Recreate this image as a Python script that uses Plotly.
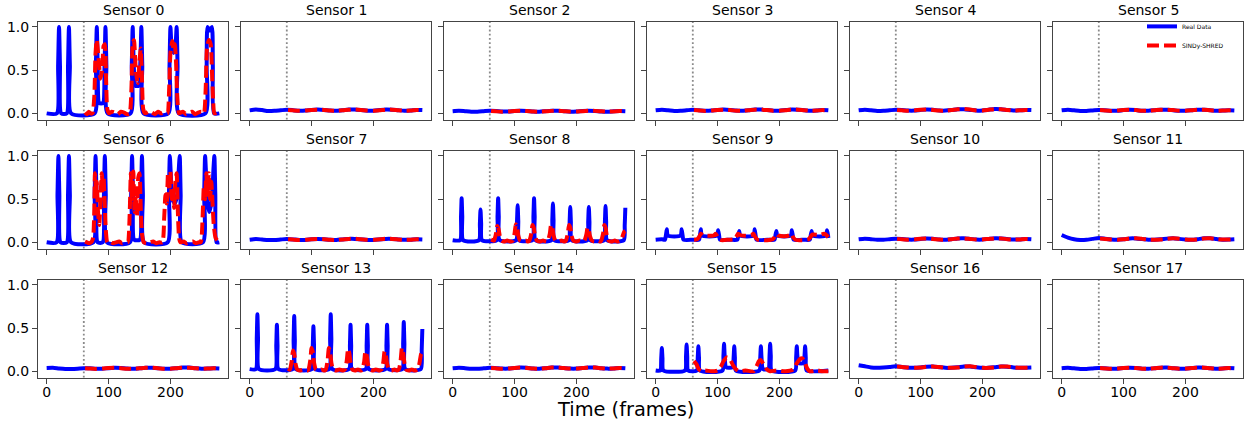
import plotly.graph_objects as go

# ---------------- data ----------------
SENSOR_NAMES = [f"Sensor {i}" for i in range(18)]
TEST_START = 60
X_TICKS = [0, 100, 200]
Y_TICKS = [0.0, 0.5, 1.0]
TICK_TEXT_Y = ["0.0", "0.5", "1.0"]

# common frame grid for the flat sensors
FLAT_X = [0, 10, 20, 30, 40, 50, 60, 70, 80, 90, 100, 110, 120, 130, 140, 150, 160,
          170, 180, 190, 200, 210, 220, 230, 240, 250, 260, 270, 279]
PRED_X = [62, 70, 80, 90, 100, 110, 120, 130, 140, 150, 160, 170, 180, 190, 200,
          210, 220, 230, 240, 250, 260, 270, 279]

# Sensor 0
S0_REAL_X = [0, 16.5, 18.5, 20, 21.5, 23.5, 32.5, 34.5, 36, 37.5, 39.5,
             77.5, 79.5, 81, 82.5, 85, 91, 93.5, 95, 96.5, 98.5,
             135.5, 137.5, 139, 140.5, 143.5, 148.5, 151.5, 153, 154.5, 156.5,
             196.5, 198.5, 200, 201.5, 205, 208.5, 210, 211.5, 213.5,
             256.5, 258.5, 260, 263.5, 267, 268.5, 270.5, 279]
S0_REAL_Y = [0, 0, 0.55, 1.0, 0.55, 0, 0, 0.55, 1.0, 0.55, 0,
             0, 0.55, 1.0, 0.55, 0.12, 0.12, 0.55, 1.0, 0.55, 0,
             0, 0.55, 1.0, 0.62, 0.32, 0.32, 0.62, 1.0, 0.55, 0,
             0, 0.55, 1.0, 0.82, 0.7, 0.82, 1.0, 0.55, 0,
             0, 0.55, 1.0, 0.96, 1.0, 0.55, 0, 0]
S0_PRED_X = [62, 65, 68, 71, 74, 77, 79, 81, 84, 87, 90, 92, 94, 96, 98,
             101, 105, 110, 115, 120, 125, 130,
             134, 137, 139, 141, 144, 147, 150, 152, 154, 156,
             159, 165, 170, 175, 180, 185, 190,
             195, 198, 200, 203, 205, 207, 209, 211, 214,
             220, 225, 230, 235, 240, 245, 250,
             254, 257, 259, 262, 265, 267, 269, 271, 275, 279]
S0_PRED_Y = [0.01, -0.01, 0.02, 0.0, 0.0, 0.2, 0.7, 0.85, 0.62, 0.4, 0.52, 0.78, 0.8, 0.4, 0.05,
             0.0, 0.02, 0.01, -0.01, 0.02, 0.01, -0.01,
             0.0, 0.3, 0.8, 0.85, 0.5, 0.35, 0.6, 0.75, 0.4, 0.05,
             0.0, 0.02, 0.01, -0.01, 0.02, 0.0, 0.01,
             0.0, 0.3, 0.7, 0.84, 0.74, 0.8, 0.6, 0.2, 0.0,
             0.02, -0.01, 0.01, 0.02, -0.01, 0.01, 0.02,
             0.0, 0.3, 0.75, 0.85, 0.8, 0.5, 0.15, 0.0, 0.01, -0.01]

# Sensor 6
S6_REAL_X = [0, 16, 17.5, 19, 20.5, 22.5, 32.5, 34.5, 36, 37.5, 39.5,
             75.5, 77.5, 79, 80.5, 82.5, 90.5, 92.5, 94, 95.5, 97.5,
             134.5, 136.5, 138, 139.5, 141.5, 150.5, 152.5, 154, 155.5, 157.5,
             195.5, 197.5, 199, 200.5, 203, 207, 211, 213.5, 215, 216.5, 218.5,
             252.5, 254.5, 256, 257.5, 260, 263, 267, 269.5, 271, 272.5, 274.5, 279]
S6_REAL_Y = [0, 0, 0.55, 1.0, 0.55, 0, 0, 0.55, 1.0, 0.55, 0,
             0, 0.55, 1.0, 0.55, 0, 0, 0.55, 1.0, 0.55, 0,
             0, 0.55, 1.0, 0.55, 0.03, 0.03, 0.55, 1.0, 0.55, 0,
             0, 0.55, 1.0, 0.8, 0.5, 0.45, 0.55, 0.85, 1.0, 0.55, 0,
             0, 0.55, 1.0, 0.8, 0.45, 0.35, 0.5, 0.85, 1.0, 0.55, 0, 0]
S6_PRED_X = [62, 65, 68, 72,
             75, 77, 78, 80, 81, 83, 85, 87, 89, 91, 92, 94, 96, 98,
             102, 107, 112, 117, 122, 127,
             131, 134, 136, 138, 140, 142, 144, 146, 148, 150, 152, 154, 157,
             162, 167, 172, 177, 182,
             187, 190, 192, 194, 196, 198, 200, 202, 204, 206, 208, 210, 212, 214, 216,
             221, 226, 231, 236, 241, 246,
             249, 252, 254, 256, 258, 260, 262, 264, 266, 268, 270, 273, 276, 279]
S6_PRED_Y = [0.01, 0.0, -0.01, 0.0,
             0.05, 0.4, 0.8, 0.55, 0.7, 0.35, 0.2, 0.5, 0.8, 0.6, 0.75, 0.4, 0.1, 0.0,
             0.01, -0.01, 0.0, 0.01, -0.01, 0.0,
             0.0, 0.3, 0.8, 0.5, 0.82, 0.35, 0.55, 0.3, 0.75, 0.8, 0.4, 0.1, 0.0,
             -0.01, 0.0, 0.01, -0.01, 0.0,
             0.0, 0.3, 0.55, 0.45, 0.8, 0.6, 0.82, 0.5, 0.6, 0.4, 0.7, 0.8, 0.35, 0.05, 0.0,
             0.01, -0.01, 0.0, 0.01, -0.01, 0.0,
             0.0, 0.3, 0.65, 0.5, 0.8, 0.55, 0.8, 0.5, 0.7, 0.45, 0.2, 0.05, 0.02, 0.0]

# Sensor 8
S8_REAL_X = [0, 12, 13.5, 14.5, 15.5, 17, 42.5, 44, 45, 46, 47.5,
             71, 72.5, 73.5, 74.5, 76, 102.5, 104, 105, 106, 107.5,
             129, 130.5, 131.5, 132.5, 134, 159.5, 161, 162, 163, 164.5,
             187.5, 189, 190, 191, 192.5, 217.5, 219, 220, 221, 222.5,
             244.5, 246, 247, 248, 249.5, 276.5, 278, 279]
S8_REAL_Y = [0.025, 0.025, 0.3, 0.51, 0.3, 0.025, 0.025, 0.22, 0.38, 0.22, 0.025,
             0.025, 0.3, 0.51, 0.3, 0.025, 0.025, 0.25, 0.43, 0.25, 0.025,
             0.025, 0.3, 0.51, 0.3, 0.025, 0.025, 0.26, 0.45, 0.26, 0.025,
             0.025, 0.24, 0.41, 0.24, 0.025, 0.025, 0.24, 0.41, 0.24, 0.025,
             0.025, 0.24, 0.42, 0.24, 0.025, 0.025, 0.2, 0.40]
S8_PRED_X = [62, 66, 67, 70, 72, 74, 76, 79, 83, 88, 94,
             97, 100, 102, 104, 106, 109, 113, 118, 122,
             124, 127, 129, 131, 133, 136, 140, 146, 152,
             154, 157, 159, 161, 163, 166, 170, 176, 181,
             183, 186, 188, 190, 192, 195, 199, 205, 211,
             213, 216, 218, 220, 222, 225, 229, 235, 239,
             240, 243, 245, 247, 249, 252, 256, 262, 267,
             271, 274, 277, 279]
S8_PRED_Y = [0.03, 0.02, 0.02, 0.1, 0.19, 0.16, 0.08, 0.02, 0.01, 0.02, 0.01,
             0.02, 0.1, 0.21, 0.18, 0.08, 0.02, 0.01, 0.02, 0.01,
             0.02, 0.1, 0.2, 0.17, 0.08, 0.02, 0.01, 0.02, 0.01,
             0.02, 0.1, 0.2, 0.17, 0.08, 0.02, 0.01, 0.02, 0.01,
             0.02, 0.1, 0.2, 0.17, 0.08, 0.02, 0.01, 0.02, 0.01,
             0.02, 0.09, 0.17, 0.14, 0.07, 0.02, 0.01, 0.02, 0.01,
             0.02, 0.1, 0.2, 0.17, 0.08, 0.02, 0.01, 0.02, 0.01,
             0.02, 0.06, 0.12, 0.13]

# Sensor 9
S9_REAL_X = [0, 10, 15, 16.5, 18, 19.5, 30, 40.5, 42, 43.5, 45, 60,
             70, 71.5, 73, 74.5, 87, 99.5, 101, 102.5, 104, 120,
             132, 133.5, 135, 136.5, 148, 158.5, 160, 161.5, 163, 180,
             192, 193.5, 195, 196.5, 208, 218.5, 220, 221.5, 223, 240,
             249, 250.5, 252, 253.5, 265, 275.5, 277, 278.5, 279]
S9_REAL_Y = [0.03, 0.035, 0.03, 0.08, 0.15, 0.08, 0.068, 0.08, 0.15, 0.08, 0.03, 0.03,
             0.03, 0.08, 0.15, 0.08, 0.068, 0.08, 0.14, 0.08, 0.03, 0.03,
             0.03, 0.08, 0.13, 0.08, 0.068, 0.08, 0.15, 0.08, 0.03, 0.03,
             0.03, 0.08, 0.13, 0.08, 0.068, 0.08, 0.14, 0.08, 0.03, 0.03,
             0.03, 0.08, 0.13, 0.08, 0.068, 0.08, 0.14, 0.08, 0.05]
S9_PRED_X = [62, 67, 70, 73, 76, 85, 94, 97, 100, 104, 108,
             118, 127, 130, 133, 136, 146, 155, 158, 161, 165,
             180, 189, 192, 195, 198, 208, 216, 219, 222, 226,
             240, 247, 250, 253, 256, 265, 272, 275, 279]
S9_PRED_Y = [0.03, 0.035, 0.06, 0.1, 0.08, 0.075, 0.08, 0.1, 0.06, 0.03, 0.025,
             0.03, 0.035, 0.06, 0.1, 0.085, 0.075, 0.085, 0.1, 0.06, 0.03,
             0.025, 0.035, 0.06, 0.1, 0.08, 0.07, 0.08, 0.1, 0.06, 0.03,
             0.025, 0.035, 0.06, 0.09, 0.09, 0.085, 0.1, 0.09, 0.06]

# Sensor 13
S13_REAL_X = [0, 10, 11.5, 12.5, 13.5, 15, 41.5, 43, 44, 45, 46.5,
              69.5, 71, 72, 73, 74.5, 100.5, 102, 103, 104, 105.5,
              128.5, 130, 131, 132, 133.5, 160.5, 162, 163, 164, 165.5,
              187.5, 189, 190, 191, 192.5, 219.5, 221, 222, 223, 224.5,
              246.5, 248, 249, 250, 251.5, 276.5, 278, 279]
S13_REAL_Y = [0.025, 0.025, 0.38, 0.66, 0.38, 0.025, 0.025, 0.3, 0.54, 0.3, 0.025,
              0.025, 0.36, 0.64, 0.36, 0.025, 0.025, 0.3, 0.52, 0.3, 0.025,
              0.025, 0.38, 0.66, 0.38, 0.025, 0.025, 0.3, 0.54, 0.3, 0.025,
              0.025, 0.3, 0.54, 0.3, 0.025, 0.025, 0.3, 0.54, 0.3, 0.025,
              0.025, 0.32, 0.57, 0.32, 0.025, 0.025, 0.25, 0.49]
S13_PRED_X = [62, 64, 65, 68, 70, 72, 74, 77, 81, 87, 93,
              95, 98, 100, 102, 104, 107, 111, 116, 121,
              123, 126, 128, 130, 132, 135, 139, 145, 151,
              154, 157, 159, 161, 163, 166, 170, 175, 180,
              182, 185, 187, 189, 191, 194, 198, 204, 210,
              213, 216, 218, 220, 222, 225, 229, 234, 238,
              241, 244, 246, 248, 250, 253, 257, 262, 267,
              271, 274, 277, 279]
S13_PRED_Y = [0.03, 0.02, 0.02, 0.12, 0.24, 0.2, 0.09, 0.02, 0.01, 0.02, 0.01,
              0.02, 0.13, 0.27, 0.22, 0.1, 0.02, 0.01, 0.02, 0.01,
              0.02, 0.13, 0.27, 0.22, 0.1, 0.02, 0.01, 0.02, 0.01,
              0.02, 0.13, 0.26, 0.21, 0.1, 0.02, 0.01, 0.02, 0.01,
              0.02, 0.11, 0.23, 0.19, 0.09, 0.02, 0.01, 0.02, 0.01,
              0.02, 0.11, 0.23, 0.19, 0.09, 0.02, 0.01, 0.02, 0.01,
              0.02, 0.13, 0.27, 0.22, 0.1, 0.02, 0.01, 0.02, 0.01,
              0.02, 0.08, 0.2, 0.22]

# Sensor 15
S15_REAL_X = [0, 7.5, 9, 10, 11, 12.5, 47.5, 49, 50, 51, 52.5, 66.5, 68, 69, 70, 71.5,
              108, 109.5, 110.5, 111.5, 113.5, 118.5, 124.5, 126, 127, 128, 129.5,
              167.5, 169, 170, 171, 173, 177.5, 182.5, 184, 185, 186, 187.5,
              225.5, 227, 228, 229, 231, 235, 239, 240.5, 241.5, 242.5, 244, 279]
S15_REAL_Y = [0.01, 0.01, 0.15, 0.27, 0.15, 0.01, 0.01, 0.17, 0.31, 0.17, 0.01, 0.01, 0.16, 0.29, 0.16, 0.01,
              0.01, 0.18, 0.32, 0.18, 0.05, 0.04, 0.05, 0.16, 0.29, 0.16, 0.01,
              0.01, 0.16, 0.29, 0.16, 0.03, 0.02, 0.03, 0.18, 0.32, 0.18, 0.01,
              0.01, 0.16, 0.29, 0.18, 0.1, 0.09, 0.1, 0.18, 0.29, 0.16, 0.01, 0.01]
S15_PRED_X = [62, 66, 70, 74, 80, 90, 100, 105, 110, 115, 120, 125, 130, 135, 145, 158,
              163, 167, 170, 175, 180, 185, 195, 210, 222, 227, 233, 237, 241, 245, 249,
              260, 270, 279]
S15_PRED_Y = [0.12, 0.08, 0.02, 0.0, 0.01, 0.0, 0.01, 0.05, 0.12, 0.16, 0.14, 0.07, 0.02, 0.0, 0.01, 0.0,
              0.06, 0.12, 0.13, 0.07, 0.02, 0.0, 0.01, 0.0, 0.02, 0.08, 0.14, 0.15, 0.1, 0.03, 0.0,
              0.01, 0.0, 0.0]

# flat sensors (values on FLAT_X / PRED_X)
S1_REAL = [0.035, 0.045, 0.038, 0.028, 0.03, 0.036, 0.042, 0.037, 0.03, 0.032, 0.04, 0.044, 0.04, 0.032, 0.03,
           0.036, 0.044, 0.045, 0.038, 0.03, 0.03, 0.038, 0.045, 0.043, 0.036, 0.03, 0.033, 0.04, 0.038]
S1_PRED = [0.04, 0.035, 0.03, 0.033, 0.04, 0.043, 0.04, 0.033, 0.03, 0.035, 0.042, 0.045, 0.04, 0.032, 0.03,
           0.036, 0.044, 0.043, 0.036, 0.03, 0.033, 0.04, 0.038]
S2_REAL = [0.025, 0.03, 0.025, 0.02, 0.02, 0.025, 0.03, 0.028, 0.022, 0.022, 0.027, 0.03, 0.028, 0.022, 0.02,
           0.025, 0.03, 0.03, 0.025, 0.02, 0.022, 0.028, 0.03, 0.028, 0.022, 0.02, 0.024, 0.028, 0.026]
S2_PRED = [0.028, 0.024, 0.02, 0.022, 0.027, 0.03, 0.027, 0.022, 0.02, 0.024, 0.029, 0.03, 0.026, 0.021, 0.021,
           0.026, 0.03, 0.029, 0.024, 0.02, 0.023, 0.028, 0.026]
S3_REAL = [0.035, 0.042, 0.036, 0.028, 0.03, 0.036, 0.042, 0.036, 0.03, 0.032, 0.04, 0.044, 0.04, 0.032, 0.03,
           0.036, 0.044, 0.044, 0.038, 0.03, 0.03, 0.038, 0.045, 0.042, 0.036, 0.03, 0.033, 0.04, 0.036]
S3_PRED = [0.038, 0.033, 0.028, 0.032, 0.04, 0.043, 0.038, 0.03, 0.03, 0.036, 0.043, 0.044, 0.038, 0.03, 0.03,
           0.037, 0.045, 0.043, 0.036, 0.03, 0.033, 0.038, 0.035]
S4_REAL = [0.035, 0.042, 0.036, 0.028, 0.03, 0.036, 0.042, 0.038, 0.032, 0.032, 0.04, 0.046, 0.042, 0.033, 0.032,
           0.038, 0.048, 0.048, 0.04, 0.032, 0.034, 0.042, 0.05, 0.048, 0.04, 0.033, 0.035, 0.04, 0.038]
S4_PRED = [0.04, 0.035, 0.03, 0.034, 0.042, 0.046, 0.04, 0.032, 0.032, 0.038, 0.048, 0.05, 0.044, 0.034, 0.034,
           0.042, 0.05, 0.048, 0.04, 0.033, 0.035, 0.04, 0.037]
S5_REAL = [0.035, 0.042, 0.035, 0.028, 0.028, 0.034, 0.04, 0.036, 0.03, 0.03, 0.038, 0.042, 0.038, 0.03, 0.03,
           0.036, 0.043, 0.042, 0.036, 0.03, 0.03, 0.036, 0.043, 0.042, 0.036, 0.03, 0.032, 0.036, 0.034]
S5_PRED = [0.038, 0.033, 0.028, 0.032, 0.04, 0.042, 0.038, 0.03, 0.03, 0.036, 0.042, 0.043, 0.038, 0.03, 0.03,
           0.036, 0.043, 0.042, 0.035, 0.03, 0.032, 0.036, 0.034]
S7_REAL = [0.03, 0.038, 0.033, 0.027, 0.027, 0.033, 0.038, 0.034, 0.028, 0.028, 0.035, 0.04, 0.036, 0.029, 0.028,
           0.034, 0.04, 0.04, 0.034, 0.028, 0.028, 0.034, 0.04, 0.04, 0.034, 0.029, 0.031, 0.036, 0.034]
S7_PRED = [0.036, 0.032, 0.028, 0.03, 0.036, 0.04, 0.036, 0.03, 0.028, 0.033, 0.04, 0.041, 0.035, 0.029, 0.029,
           0.035, 0.041, 0.04, 0.034, 0.029, 0.031, 0.036, 0.034]
S10_REAL = [0.035, 0.042, 0.036, 0.03, 0.03, 0.036, 0.042, 0.038, 0.032, 0.032, 0.039, 0.045, 0.041, 0.033, 0.031,
            0.037, 0.045, 0.046, 0.039, 0.032, 0.032, 0.039, 0.046, 0.045, 0.038, 0.032, 0.034, 0.04, 0.037]
S10_PRED = [0.04, 0.035, 0.031, 0.034, 0.041, 0.045, 0.04, 0.033, 0.031, 0.037, 0.045, 0.046, 0.039, 0.032, 0.033,
            0.04, 0.046, 0.044, 0.037, 0.032, 0.034, 0.04, 0.037]
S11_REAL = [0.085, 0.055, 0.035, 0.028, 0.03, 0.04, 0.05, 0.042, 0.033, 0.03, 0.036, 0.045, 0.045, 0.038, 0.031,
            0.03, 0.035, 0.043, 0.047, 0.04, 0.032, 0.03, 0.037, 0.046, 0.046, 0.038, 0.031, 0.032, 0.035]
S11_PRED = [0.045, 0.04, 0.034, 0.03, 0.035, 0.044, 0.046, 0.04, 0.032, 0.03, 0.034, 0.042, 0.047, 0.042, 0.033,
            0.03, 0.035, 0.045, 0.046, 0.039, 0.032, 0.032, 0.034]
S12_REAL = [0.038, 0.04, 0.032, 0.026, 0.026, 0.03, 0.036, 0.034, 0.03, 0.03, 0.036, 0.04, 0.038, 0.031, 0.029,
            0.034, 0.04, 0.041, 0.036, 0.03, 0.03, 0.036, 0.043, 0.043, 0.036, 0.03, 0.031, 0.036, 0.033]
S12_PRED = [0.035, 0.031, 0.028, 0.031, 0.037, 0.04, 0.036, 0.03, 0.029, 0.034, 0.04, 0.041, 0.035, 0.029, 0.03,
            0.036, 0.042, 0.042, 0.035, 0.03, 0.031, 0.036, 0.033]
S14_REAL = [0.036, 0.042, 0.036, 0.029, 0.029, 0.034, 0.04, 0.036, 0.031, 0.031, 0.038, 0.043, 0.04, 0.032, 0.03,
            0.036, 0.043, 0.044, 0.037, 0.031, 0.031, 0.038, 0.044, 0.043, 0.036, 0.031, 0.033, 0.038, 0.035]
S14_PRED = [0.038, 0.034, 0.03, 0.033, 0.039, 0.043, 0.038, 0.031, 0.03, 0.036, 0.043, 0.044, 0.037, 0.031, 0.031,
            0.038, 0.044, 0.043, 0.036, 0.031, 0.033, 0.038, 0.035]
S16_REAL = [0.07, 0.058, 0.045, 0.042, 0.045, 0.05, 0.058, 0.05, 0.042, 0.04, 0.045, 0.053, 0.056, 0.048, 0.04,
            0.04, 0.046, 0.055, 0.056, 0.047, 0.04, 0.04, 0.047, 0.055, 0.054, 0.045, 0.04, 0.042, 0.044]
S16_PRED = [0.055, 0.05, 0.043, 0.04, 0.044, 0.052, 0.056, 0.049, 0.041, 0.04, 0.045, 0.054, 0.057, 0.049, 0.041,
            0.04, 0.046, 0.055, 0.055, 0.047, 0.041, 0.041, 0.043]
S17_REAL = [0.035, 0.04, 0.034, 0.028, 0.028, 0.033, 0.039, 0.035, 0.03, 0.03, 0.037, 0.042, 0.039, 0.031, 0.029,
            0.035, 0.042, 0.043, 0.036, 0.03, 0.03, 0.037, 0.043, 0.042, 0.035, 0.03, 0.032, 0.037, 0.034]
S17_PRED = [0.037, 0.033, 0.029, 0.032, 0.038, 0.042, 0.037, 0.03, 0.03, 0.035, 0.042, 0.043, 0.036, 0.03, 0.031,
            0.037, 0.043, 0.042, 0.035, 0.03, 0.032, 0.037, 0.034]

# table of (real_x, real_y, pred_x, pred_y) per sensor, built from the arrays above
SERIES = [
    (S0_REAL_X, S0_REAL_Y, S0_PRED_X, S0_PRED_Y),
    (FLAT_X, S1_REAL, PRED_X, S1_PRED),
    (FLAT_X, S2_REAL, PRED_X, S2_PRED),
    (FLAT_X, S3_REAL, PRED_X, S3_PRED),
    (FLAT_X, S4_REAL, PRED_X, S4_PRED),
    (FLAT_X, S5_REAL, PRED_X, S5_PRED),
    (S6_REAL_X, S6_REAL_Y, S6_PRED_X, S6_PRED_Y),
    (FLAT_X, S7_REAL, PRED_X, S7_PRED),
    (S8_REAL_X, S8_REAL_Y, S8_PRED_X, S8_PRED_Y),
    (S9_REAL_X, S9_REAL_Y, S9_PRED_X, S9_PRED_Y),
    (FLAT_X, S10_REAL, PRED_X, S10_PRED),
    (FLAT_X, S11_REAL, PRED_X, S11_PRED),
    (FLAT_X, S12_REAL, PRED_X, S12_PRED),
    (S13_REAL_X, S13_REAL_Y, S13_PRED_X, S13_PRED_Y),
    (FLAT_X, S14_REAL, PRED_X, S14_PRED),
    (S15_REAL_X, S15_REAL_Y, S15_PRED_X, S15_PRED_Y),
    (FLAT_X, S16_REAL, PRED_X, S16_PRED),
    (FLAT_X, S17_REAL, PRED_X, S17_PRED),
]
for k, (rx, ry, px, py) in enumerate(SERIES):
    assert len(rx) == len(ry), (k, "real", len(rx), len(ry))
    assert len(px) == len(py), (k, "pred", len(px), len(py))

# ---------------- layout ----------------
W, H = 1248, 423
FONT = "DejaVu Sans"
COL_LEFT = [38, 241, 444, 647, 850, 1053]
PANEL_W = 190
ROW_TOP = [19, 149.5, 280]
PANEL_H = 99
SPINE = "#444444"

fig = go.Figure()
layout = dict(
    width=W, height=H, margin=dict(l=0, r=0, t=0, b=0),
    paper_bgcolor="white", plot_bgcolor="white",
    font=dict(family=FONT, size=14, color="black"),
    showlegend=True,
    legend=dict(x=1142 / W, y=1 - 9 / H, xanchor="left", yanchor="top",
                font=dict(size=6, family=FONT), bgcolor="rgba(255,255,255,0)",
                borderwidth=0, itemwidth=30, tracegroupgap=0),
)
annotations = []
shapes = []

for i, (rx, ry, px, py) in enumerate(SERIES):
    r, c = divmod(i, 6)
    sfx = "" if i == 0 else str(i + 1)
    xname, yname = "x" + sfx, "y" + sfx
    x0 = COL_LEFT[c] / W
    x1 = (COL_LEFT[c] + PANEL_W) / W
    y1 = 1 - ROW_TOP[r] / H
    y0 = 1 - (ROW_TOP[r] + PANEL_H) / H
    layout["xaxis" + sfx] = dict(
        domain=[x0, x1], anchor=yname, range=[-14, 293],
        tickvals=X_TICKS, showticklabels=(r == 2), ticks="outside", ticklen=5,
        tickwidth=1, tickcolor=SPINE, showline=True, linecolor=SPINE, linewidth=1,
        mirror=True, showgrid=False, zeroline=False, ticklabelstandoff=-3,
        tickfont=dict(size=14, family=FONT, color="black"),
    )
    layout["yaxis" + sfx] = dict(
        domain=[y0, y1], anchor=xname, range=[-0.072, 1.06],
        tickvals=Y_TICKS, ticktext=TICK_TEXT_Y, showticklabels=(c == 0),
        ticks="outside", ticklen=5, tickwidth=1, tickcolor=SPINE,
        showline=True, linecolor=SPINE, linewidth=1, mirror=True,
        showgrid=False, zeroline=False,
        tickfont=dict(size=14, family=FONT, color="black"),
    )
    fig.add_trace(go.Scatter(
        x=rx, y=ry, mode="lines", name="Real Data", legendgroup="real",
        showlegend=(i == 0),
        line=dict(color="#0000ff", width=4, shape="spline", smoothing=0.6),
        xaxis=xname, yaxis=yname,
    ))
    fig.add_trace(go.Scatter(
        x=px, y=py, mode="lines", name="SINDy-SHRED", legendgroup="pred",
        showlegend=(i == 0),
        line=dict(color="#ff0000", width=4, dash="12px,5px", shape="spline", smoothing=0.6),
        xaxis=xname, yaxis=yname,
    ))
    shapes.append(dict(
        type="line", xref=xname, yref=yname + " domain", x0=TEST_START, x1=TEST_START,
        y0=0, y1=1, line=dict(color="#8a8a8a", width=1.8, dash="1.8px,2.4px"), layer="below",
    ))
    annotations.append(dict(
        text=SENSOR_NAMES[i], xref="paper", yref="paper",
        x=(COL_LEFT[c] + PANEL_W / 2) / W, y=y1, xanchor="center", yanchor="bottom",
        showarrow=False, font=dict(size=14, family=FONT, color="black"), yshift=2,
    ))

annotations.append(dict(
    text="Time (frames)", xref="paper", yref="paper", x=625 / W, y=1 - 411 / H,
    xanchor="center", yanchor="middle", showarrow=False,
    font=dict(size=19.4, family=FONT, color="black"),
))
layout["annotations"] = annotations
layout["shapes"] = shapes
fig.update_layout(**layout)
fig.write_html("out.html")
